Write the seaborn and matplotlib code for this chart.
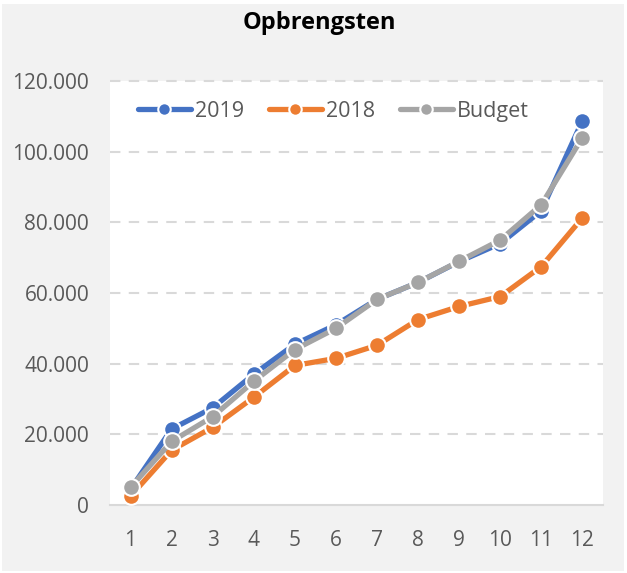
import matplotlib
matplotlib.use("Agg")
import matplotlib.pyplot as plt
import seaborn as sns
import pandas as pd
from matplotlib.ticker import FuncFormatter
from matplotlib.patches import Rectangle

months = list(range(1, 13))
v2019 = [4500, 21500, 27500, 37000, 45500, 51000, 58200, 63000, 68900, 74000, 83300, 108800]
v2018 = [2500, 15500, 22000, 30500, 39500, 41500, 45200, 52500, 56200, 59000, 67500, 81300]
budget = [5000, 18000, 25000, 35000, 44000, 50000, 58200, 63000, 69000, 75000, 85000, 104000]
series_names = ["2019", "2018", "Budget"]
colors = ["#4472C4", "#ED7D31", "#A5A5A5"]
title = "Opbrengsten"

df = pd.DataFrame({
    "maand": months * 3,
    "waarde": v2019 + v2018 + budget,
    "serie": [series_names[0]] * 12 + [series_names[1]] * 12 + [series_names[2]] * 12,
})

sns.set_theme(style="white")
plt.rcParams["font.family"] = ["Open Sans", "DejaVu Sans"]

fig = plt.figure(figsize=(6.27, 5.73), dpi=100, facecolor="white")
fig.patches.append(Rectangle((2 / 627, 2 / 573), 622 / 627, 567 / 573,
                             transform=fig.transFigure, facecolor="#F2F2F2",
                             edgecolor="none", zorder=-10))
ax = fig.add_axes([110 / 627, 1 - 505 / 573, 493 / 627, 424 / 573])
ax.set_facecolor("white")

sns.lineplot(data=df, x="maand", y="waarde", hue="serie", hue_order=series_names,
             palette=colors, marker="o", markersize=12, markeredgecolor="white",
             markeredgewidth=1.5, linewidth=3.8, ax=ax, zorder=3)

ax.set_xlim(0.5, 12.5)
ax.set_ylim(0, 120000)
ax.set_yticks(range(0, 120001, 20000))
ax.set_xticks(months)
ax.yaxis.set_major_formatter(FuncFormatter(lambda v, p: f"{v:,.0f}".replace(",", ".")))
ax.set_xlabel("")
ax.set_ylabel("")
for s in ["left", "right", "top"]:
    ax.spines[s].set_visible(False)
ax.spines["bottom"].set_color("#D9D9D9")
ax.spines["bottom"].set_linewidth(1.5)
ax.spines["bottom"].set_zorder(1)
for y in range(20000, 120001, 20000):
    ax.axhline(y, color="#D9D9D9", linewidth=1.5, linestyle=(0, (5, 4)), zorder=1, clip_on=False)
ax.tick_params(axis="both", length=0, labelsize=15, labelcolor="#595959")
ax.tick_params(axis="y", pad=15)
ax.tick_params(axis="x", pad=18)

handles, labels = ax.get_legend_handles_labels()
ax.legend(handles, labels, loc="upper center", bbox_to_anchor=(0.453, 0.999), ncol=3,
          frameon=False, fontsize=15.5, labelcolor="#595959", handlelength=2.45,
          handletextpad=0.2, columnspacing=1.15, markerscale=0.75)

fig.text(319 / 627, 1 - 23 / 573, title, ha="center", va="center",
         fontsize=17, fontweight="bold", color="black")

fig.savefig("out.png", dpi=100, facecolor=fig.get_facecolor())
